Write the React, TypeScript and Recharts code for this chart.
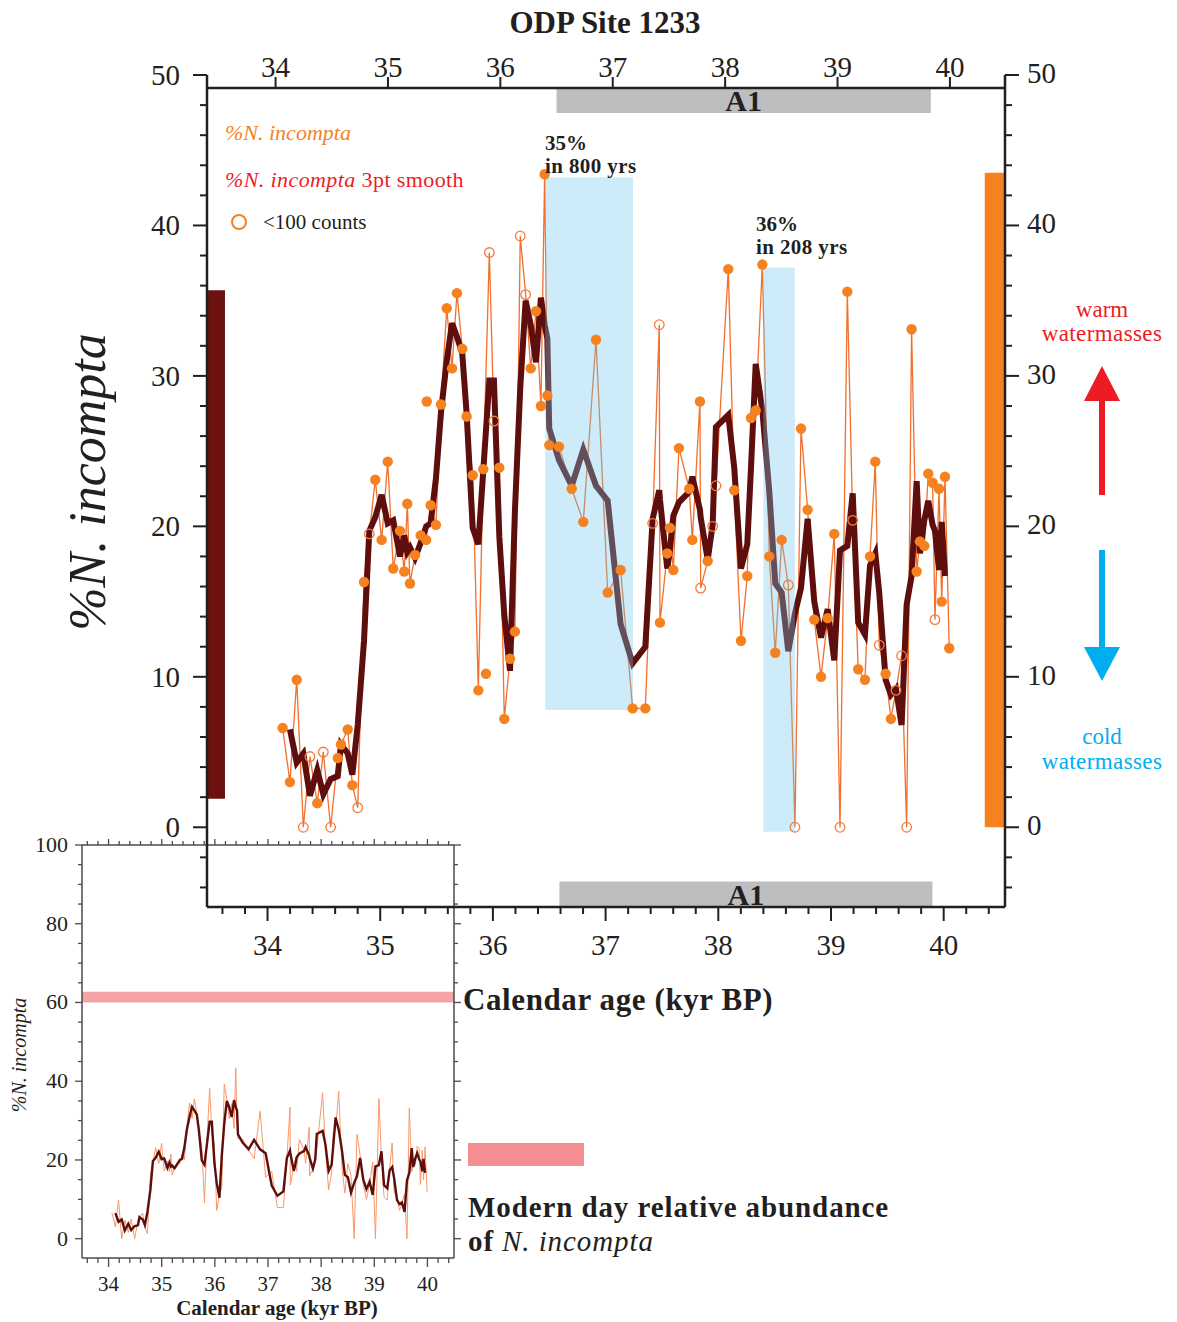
import { ComposedChart, LineChart, Line, Scatter, XAxis, YAxis, ReferenceArea, ReferenceLine } from 'recharts'

const FONT = '"Liberation Serif", "Times New Roman", serif'
const INK = '#231f20'
const ORANGE = '#f5821f'
const ORANGE_LINE = '#f26f2c'
const ORANGE_OPEN = '#f37b3d'
const DARK = '#5e0e0c'

// ODP 1233 N. incompta record (calendar age kyr BP, %)
const RAW_AGE = [
  34.063, 34.128, 34.188, 34.247, 34.306, 34.371, 34.425, 34.49, 34.553, 34.582,
  34.642, 34.683, 34.731, 34.787, 34.834, 34.887, 34.944, 34.998, 35.047, 35.107,
  35.145, 35.172, 35.196, 35.241, 35.291, 35.34, 35.38, 35.427, 35.472, 35.523,
  35.57, 35.614, 35.661, 35.7, 35.754, 35.804, 35.848, 35.902, 35.943, 35.991,
  36.035, 36.086, 36.13, 36.177, 36.225, 36.27, 36.317, 36.361, 36.394, 36.418,
  36.435, 36.522, 36.635, 36.738, 36.851, 36.955, 37.07, 37.177, 37.29, 37.355,
  37.414, 37.42, 37.485, 37.509, 37.539, 37.589, 37.681, 37.708, 37.776, 37.782,
  37.845, 37.889, 37.918, 38.028, 38.081, 38.141, 38.197, 38.23, 38.272, 38.331,
  38.393, 38.446, 38.503, 38.562, 38.621, 38.675, 38.734, 38.793, 38.853, 38.912,
  38.971, 39.022, 39.087, 39.135, 39.184, 39.244, 39.289, 39.336, 39.371, 39.428,
  39.475, 39.52, 39.57, 39.615, 39.659, 39.704, 39.733, 39.772, 39.807, 39.846,
  39.867, 39.903, 39.927, 39.956, 39.994,
]
const RAW_PCT = [
  6.6, 3.0, 9.8, 0, 4.7, 1.6, 5.0, 0, 4.6, 5.5,
  6.5, 2.8, 1.3, 16.3, 19.5, 23.1, 19.1, 24.3, 17.2, 19.7,
  17.0, 21.5, 16.2, 18.1, 19.4, 19.1, 21.4, 20.1, 28.1, 34.5,
  30.5, 35.5, 31.8, 27.3, 23.4, 9.1, 23.8, 38.2, 27.0, 23.9,
  7.2, 11.2, 13.0, 39.3, 35.4, 30.5, 34.3, 28.0, 43.4, 28.7,
  25.4, 25.3, 22.5, 20.3, 32.4, 15.6, 17.1, 7.9, 7.9, 20.2,
  33.4, 13.6, 18.2, 19.9, 17.1, 25.2, 22.5, 19.1, 28.3, 15.9,
  17.7, 20.0, 22.7, 37.1, 22.4, 12.4, 16.7, 27.2, 27.7, 37.4,
  18.0, 11.6, 19.1, 16.1, 0, 26.5, 21.1, 13.8, 10.0, 13.9,
  19.5, 0, 35.6, 20.4, 10.5, 9.8, 18.0, 24.3, 12.1, 10.2,
  7.2, 9.1, 11.4, 0, 33.1, 17.0, 19.0, 18.7, 23.5, 22.9,
  13.8, 22.5, 15.0, 23.3, 11.9,
]
// samples with <100 counts (open circles)
const LOW_COUNT_IDX = [3, 4, 6, 7, 12, 14, 37, 38, 43, 44, 59, 60, 69, 71, 72, 83, 84, 91, 93, 98, 101, 102, 103, 110]
// 3pt smooth, one value per interior sample
const SMOOTH_PCT = [
  6.5, 4.3, 4.9, 2.1, 3.8, 2.2, 3.2, 3.4, 5.5, 4.9,
  3.5, 6.8, 12.4, 19.7, 20.6, 22.1, 20.2, 20.4, 18.0, 19.4,
  18.3, 18.6, 17.9, 18.9, 20.0, 20.2, 23.2, 27.6, 31.0, 33.5,
  32.6, 31.5, 27.5, 19.9, 18.8, 23.7, 29.7, 29.7, 19.3, 14.1,
  10.4, 21.1, 29.2, 35.0, 33.4, 30.9, 35.2, 33.4, 32.5, 26.5,
  24.4, 22.7, 25.1, 22.7, 21.7, 13.5, 10.9, 12.0, 20.5, 22.4,
  21.8, 17.2, 18.4, 20.7, 21.6, 22.3, 23.3, 21.1, 20.6, 17.8,
  20.1, 26.6, 27.4, 23.9, 17.2, 18.8, 23.9, 30.8, 27.7, 22.3,
  16.2, 15.6, 11.7, 14.2, 15.9, 20.5, 15.0, 12.6, 14.5, 11.1,
  18.4, 18.7, 22.2, 13.6, 12.8, 17.4, 18.2, 15.6, 9.8, 8.8,
  9.2, 6.8, 14.8, 16.7, 23.0, 18.2, 20.4, 21.7, 20.1, 19.7,
  17.1, 20.3, 16.7,
]
// two unconnected samples
const LONE_AGE = [35.345, 35.872]
const LONE_PCT = [28.3, 10.2]

const A1_TOP = [36.5, 39.83]
const A1_BOTTOM = [36.59, 39.9]
const EVENT_AGE = [[36.4, 37.18], [38.34, 38.62]]
const EVENT_PCT = [[7.8, 43.2], [-0.3, 37.2]]
const COLD_BAR = [1.9, 35.7]
const WARM_BAR = [0, 43.5]
const MODERN_BAND = [60, 62.7]

const TOP_TICKS = [34, 35, 36, 37, 38, 39, 40]
const MINOR_AGE_TICKS = Array.from({ length: 35 }, (_, i) => Math.round((33.6 + 0.2 * i) * 10) / 10)
const MAIN_Y_TICKS = Array.from({ length: 28 }, (_, i) => -4 + 2 * i)
const INSET_Y_TICKS = Array.from({ length: 21 }, (_, i) => 5 * i)

const TOP_DOMAIN: [number, number] = [33.39, 40.49]
const BOTTOM_DOMAIN: [number, number] = [33.463, 40.544]
const Y_DOMAIN: [number, number] = [-5.3, 50]

const raw = RAW_AGE.map((x, i) => ({ x, y: RAW_PCT[i] }))
const smooth = SMOOTH_PCT.map((y, i) => ({ x: RAW_AGE[i + 1], y }))
const filled = raw
  .filter((_, i) => !LOW_COUNT_IDX.includes(i))
  .concat(LONE_AGE.map((x, i) => ({ x, y: LONE_PCT[i] })))
const open = raw.filter((_, i) => LOW_COUNT_IDX.includes(i))

const W = 1177
const H = 1322
const MAIN_MARGIN = { top: 35, right: 92, bottom: 355, left: 137 }

const isInt = (v: number) => Math.abs(v - Math.round(v)) < 1e-6

function TopTick(p: any) {
  return (
    <g>
      <line x1={p.x} x2={p.x} y1={p.y + 13} y2={p.y + 2} stroke={INK} strokeWidth={2} />
      <text x={p.x} y={p.y + 2} textAnchor="middle" fontSize={29} fontFamily={FONT} fill={INK}>{p.payload.value}</text>
    </g>
  )
}

function BottomTick(p: any) {
  const v = p.payload.value as number
  const major = isInt(v)
  return (
    <g>
      <line x1={p.x} x2={p.x} y1={p.y} y2={p.y + (major ? 14 : 7)} stroke={INK} strokeWidth={2} />
      {major && (
        <text x={p.x} y={p.y + 48} textAnchor="middle" fontSize={29} fontFamily={FONT} fill={INK}>{v}</text>
      )}
    </g>
  )
}

function LeftTick(p: any) {
  const v = p.payload.value as number
  const major = v % 10 === 0
  return (
    <g>
      <line x1={p.x} x2={p.x - (major ? 14 : 7)} y1={p.y} y2={p.y} stroke={INK} strokeWidth={2} />
      {major && v >= 0 && (
        <text x={p.x - 27} y={p.y + 10} textAnchor="end" fontSize={29} fontFamily={FONT} fill={INK}>{v}</text>
      )}
    </g>
  )
}

function RightTick(p: any) {
  const v = p.payload.value as number
  const major = v % 10 === 0
  return (
    <g>
      <line x1={p.x} x2={p.x + (major ? 14 : 7)} y1={p.y} y2={p.y} stroke={INK} strokeWidth={2} />
      {major && v >= 0 && (
        <text x={p.x + 22} y={p.y + 8} textAnchor="start" fontSize={29} fontFamily={FONT} fill={INK}>{v}</text>
      )}
    </g>
  )
}

function mainAxes(show: boolean) {
  const line = show ? { stroke: INK, strokeWidth: 2.5 } : false
  return [
    <XAxis key="xt" xAxisId="top" orientation="top" type="number" dataKey="x" domain={TOP_DOMAIN} allowDataOverflow
      ticks={TOP_TICKS} interval={0} height={40} tickSize={0} tickMargin={0} axisLine={false} tickLine={false}
      tick={show ? TopTick : false} />,
    <XAxis key="xb" xAxisId="bottom" orientation="bottom" type="number" dataKey="x" domain={BOTTOM_DOMAIN} allowDataOverflow
      ticks={MINOR_AGE_TICKS} interval={0} height={60} tickSize={0} tickMargin={0} axisLine={line} tickLine={false}
      tick={show ? BottomTick : false} />,
    <YAxis key="yl" yAxisId="left" orientation="left" type="number" dataKey="y" domain={Y_DOMAIN} allowDataOverflow
      ticks={MAIN_Y_TICKS} interval={0} width={70} tickSize={0} tickMargin={0} axisLine={line} tickLine={false}
      tick={show ? LeftTick : false} />,
    <YAxis key="yr" yAxisId="right" orientation="right" type="number" dataKey="y" domain={Y_DOMAIN} allowDataOverflow
      ticks={MAIN_Y_TICKS} interval={0} width={80} tickSize={0} tickMargin={0} axisLine={line} tickLine={false}
      tick={show ? RightTick : false} />,
  ]
}

const a1Label = { value: 'A1', position: 'center' as const, fontSize: 30, fontWeight: 700, fill: INK, fontFamily: FONT }

function MainLines() {
  return (
    <ComposedChart width={W} height={H} margin={MAIN_MARGIN}>
      {mainAxes(true)}
      <ReferenceArea xAxisId="top" yAxisId="left" x1={A1_TOP[0]} x2={A1_TOP[1]} y1={47.47} y2={49.14}
        fill="#bcbec0" fillOpacity={1} stroke="none" ifOverflow="visible" label={a1Label} />
      <ReferenceArea xAxisId="bottom" yAxisId="left" x1={A1_BOTTOM[0]} x2={A1_BOTTOM[1]} y1={-5.3} y2={-3.6}
        fill="#bcbec0" fillOpacity={1} stroke="none" ifOverflow="visible" label={a1Label} />
      <ReferenceArea xAxisId="top" yAxisId="left" x1={TOP_DOMAIN[0]} x2={33.55} y1={COLD_BAR[0]} y2={COLD_BAR[1]}
        fill="#6b120f" fillOpacity={1} stroke="none" ifOverflow="visible" />
      <ReferenceArea xAxisId="top" yAxisId="left" x1={40.31} x2={TOP_DOMAIN[1]} y1={WARM_BAR[0]} y2={WARM_BAR[1]}
        fill={ORANGE} fillOpacity={1} stroke="none" ifOverflow="visible" />
      <ReferenceLine xAxisId="top" yAxisId="left" y={49.14} stroke={INK} strokeWidth={2.5} ifOverflow="visible" />
      <Line xAxisId="top" yAxisId="left" data={raw} dataKey="y" type="linear" stroke={ORANGE_LINE}
        strokeWidth={1.3} dot={false} isAnimationActive={false} />
      <Line xAxisId="top" yAxisId="left" data={smooth} dataKey="y" type="linear" stroke={DARK}
        strokeWidth={6} dot={false} isAnimationActive={false} />
    </ComposedChart>
  )
}

const FilledDot = (p: any) => <circle cx={p.cx} cy={p.cy} r={5.2} fill={ORANGE} />
const OpenDot = (p: any) => <circle cx={p.cx} cy={p.cy} r={4.8} fill="none" stroke={ORANGE_OPEN} strokeWidth={1.3} />

function MainDots() {
  return (
    <ComposedChart width={W} height={H} margin={MAIN_MARGIN}>
      {mainAxes(false)}
      {EVENT_AGE.map((ages, i) => (
        <ReferenceArea key={i} xAxisId="top" yAxisId="left" x1={ages[0]} x2={ages[1]}
          y1={EVENT_PCT[i][0]} y2={EVENT_PCT[i][1]} fill="rgb(112,198,235)" fillOpacity={0.35}
          stroke="none" ifOverflow="visible" />
      ))}
      <Scatter xAxisId="top" yAxisId="left" data={filled} dataKey="y" shape={FilledDot} isAnimationActive={false} />
      <Scatter xAxisId="top" yAxisId="left" data={open} dataKey="y" shape={OpenDot} isAnimationActive={false} />
    </ComposedChart>
  )
}

const INSET_AXIS = '#4a4a4a'

function InsetBottomTick(p: any) {
  const v = p.payload.value as number
  const major = isInt(v)
  return (
    <g>
      <line x1={p.x} x2={p.x} y1={p.y} y2={p.y + (major ? 9 : 5)} stroke={INSET_AXIS} strokeWidth={1.3} />
      {major && (
        <text x={p.x} y={p.y + 33} textAnchor="middle" fontSize={21} fontFamily={FONT} fill={INK}>{v}</text>
      )}
    </g>
  )
}

function InsetTopTick(p: any) {
  const v = p.payload.value as number
  return <line x1={p.x} x2={p.x} y1={p.y} y2={p.y - (isInt(v) ? 6 : 4)} stroke={INSET_AXIS} strokeWidth={1.3} />
}

function InsetLeftTick(p: any) {
  const v = p.payload.value as number
  const major = v % 20 === 0
  return (
    <g>
      <line x1={p.x} x2={p.x - (major ? 7 : 4)} y1={p.y} y2={p.y} stroke={INSET_AXIS} strokeWidth={1.3} />
      {major && (
        <text x={p.x - 14} y={p.y + 7} textAnchor="end" fontSize={22} fontFamily={FONT} fill={INK}>{v}</text>
      )}
    </g>
  )
}

function InsetRightTick(p: any) {
  const v = p.payload.value as number
  return <line x1={p.x} x2={p.x + (v % 20 === 0 ? 7 : 4)} y1={p.y} y2={p.y} stroke={INSET_AXIS} strokeWidth={1.3} />
}

function InsetChart() {
  const axisLine = { stroke: INSET_AXIS, strokeWidth: 1.5 }
  return (
    <LineChart width={470} height={492} margin={{ top: 5, right: 6, bottom: 24, left: 22 }}>
      <XAxis xAxisId="b" orientation="bottom" type="number" dataKey="x" domain={[33.5, 40.5]} allowDataOverflow
        ticks={MINOR_AGE_TICKS} interval={0} height={40} tickSize={0} tickMargin={0} axisLine={axisLine}
        tickLine={false} tick={InsetBottomTick} />
      <XAxis xAxisId="t" orientation="top" type="number" dataKey="x" domain={[33.5, 40.5]} allowDataOverflow
        ticks={MINOR_AGE_TICKS} interval={0} height={10} tickSize={0} tickMargin={0} axisLine={axisLine}
        tickLine={false} tick={InsetTopTick} />
      <YAxis yAxisId="l" orientation="left" type="number" dataKey="y" domain={[-4.9, 100]} allowDataOverflow
        ticks={INSET_Y_TICKS} interval={0} width={60} tickSize={0} tickMargin={0} axisLine={axisLine}
        tickLine={false} tick={InsetLeftTick} />
      <YAxis yAxisId="r" orientation="right" type="number" dataKey="y" domain={[-4.9, 100]} allowDataOverflow
        ticks={INSET_Y_TICKS} interval={0} width={10} tickSize={0} tickMargin={0} axisLine={axisLine}
        tickLine={false} tick={InsetRightTick} />
      <ReferenceArea xAxisId="b" yAxisId="l" x1={33.5} x2={40.5} y1={MODERN_BAND[0]} y2={MODERN_BAND[1]}
        fill="#f4a4a7" fillOpacity={1} stroke="none" ifOverflow="visible" />
      <Line xAxisId="b" yAxisId="l" data={raw} dataKey="y" type="linear" stroke="#f7996a"
        strokeWidth={1} dot={false} isAnimationActive={false} />
      <Line xAxisId="b" yAxisId="l" data={smooth} dataKey="y" type="linear" stroke={DARK}
        strokeWidth={2.4} dot={false} isAnimationActive={false} />
    </LineChart>
  )
}

function Annotations() {
  const t = { fontFamily: FONT }
  return (
    <svg width={W} height={H} style={{ position: 'absolute', left: 0, top: 0, pointerEvents: 'none' }}>
      <text x={605} y={33} textAnchor="middle" fontSize={31} fontWeight={700} fill={INK} {...t}>ODP Site 1233</text>

      <text transform="translate(105,482) rotate(-90)" textAnchor="middle" fontSize={52} fontStyle="italic" fill={INK} {...t}>
        %N. incompta
      </text>

      <text x={225} y={140} fontSize={22} fontStyle="italic" fill={ORANGE} {...t}>%N. incompta</text>
      <text x={225} y={187} fontSize={22} fill="#ed1c24" letterSpacing={0.4} {...t}>
        <tspan fontStyle="italic">%N. incompta</tspan> 3pt smooth
      </text>
      <circle cx={239} cy={222} r={7} fill="none" stroke={ORANGE} strokeWidth={2} />
      <text x={263} y={229} fontSize={21} fill={INK} {...t}>&lt;100 counts</text>

      <text x={545} y={150} fontSize={21} fontWeight={700} fill={INK} {...t}>35%</text>
      <text x={545} y={173} fontSize={21} fontWeight={700} fill={INK} letterSpacing={0.4} {...t}>in 800 yrs</text>
      <text x={756} y={231} fontSize={21} fontWeight={700} fill={INK} {...t}>36%</text>
      <text x={756} y={254} fontSize={21} fontWeight={700} fill={INK} letterSpacing={0.4} {...t}>in 208 yrs</text>

      <text x={1102} y={317} textAnchor="middle" fontSize={23} fill="#ed1c24" {...t}>warm</text>
      <text x={1102} y={341} textAnchor="middle" fontSize={23} fill="#ed1c24" letterSpacing={0.4} {...t}>watermasses</text>
      <rect x={1099} y={398} width={6} height={97} fill="#ed1c24" />
      <polygon points="1084,401 1120,401 1102,366" fill="#ed1c24" />
      <rect x={1099} y={550} width={6} height={99} fill="#00aeef" />
      <polygon points="1084,647 1120,647 1102,681" fill="#00aeef" />
      <text x={1102} y={744} textAnchor="middle" fontSize={23} fill="#00aeef" {...t}>cold</text>
      <text x={1102} y={769} textAnchor="middle" fontSize={23} fill="#00aeef" letterSpacing={0.4} {...t}>watermasses</text>

      <text x={463} y={1010} fontSize={31} fontWeight={700} fill={INK} letterSpacing={0.6} {...t}>Calendar age (kyr BP)</text>
      <rect x={468} y={1143} width={116} height={23} fill="#f48e93" />
      <text x={468} y={1217} fontSize={29} fontWeight={700} fill={INK} letterSpacing={0.9} {...t}>Modern day relative abundance</text>
      <text x={468} y={1251} fontSize={29} fill={INK} letterSpacing={0.9} {...t}>
        <tspan fontWeight={700}>of </tspan>
        <tspan fontStyle="italic">N. incompta</tspan>
      </text>

      <text transform="translate(26,1055) rotate(-90)" textAnchor="middle" fontSize={20} fontStyle="italic" fill={INK} {...t}>
        %N. incompta
      </text>
      <text x={277} y={1315} textAnchor="middle" fontSize={21} fontWeight={700} fill={INK} {...t}>Calendar age (kyr BP)</text>
    </svg>
  )
}

export default function App() {
  return (
    <div style={{ position: 'absolute', left: 0, top: 0, width: W, height: H, background: '#fff', overflow: 'hidden' }}>
      <div style={{ position: 'absolute', left: 0, top: 830 }}>
        <InsetChart />
      </div>
      <div style={{ position: 'absolute', left: 0, top: 0 }}>
        <MainLines />
      </div>
      <div style={{ position: 'absolute', left: 0, top: 0 }}>
        <MainDots />
      </div>
      <Annotations />
    </div>
  )
}
